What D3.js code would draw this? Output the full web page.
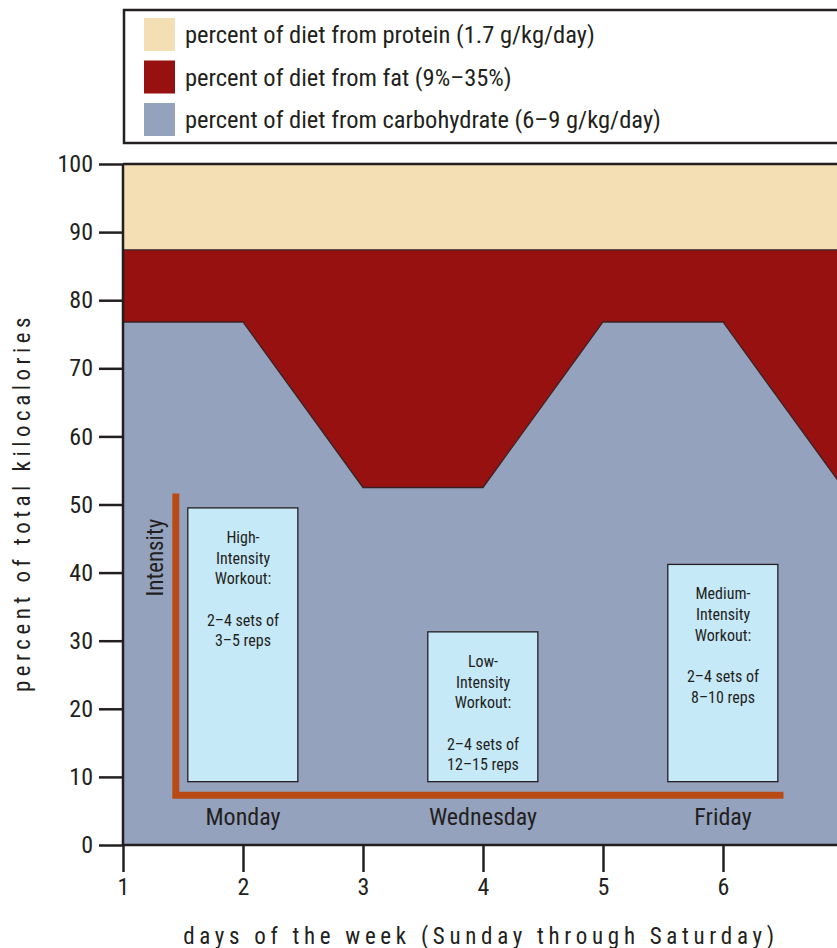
<!DOCTYPE html>
<html>
<head>
<meta charset="utf-8">
<script src="https://cdn.jsdelivr.net/npm/d3@7"></script>
<style>
  body { margin: 0; background: #fff; }
  text { font-family: "Liberation Sans Narrow", "Roboto Condensed", "DejaVu Sans Condensed", "Liberation Sans", sans-serif; fill: #231f20; }
</style>
</head>
<body>
<div id="chart"></div>
<script>
// data
const days = [1, 2, 3, 4, 5, 6, 7];
const carbPct = [76.8, 76.8, 52.5, 52.5, 76.8, 76.8, 52.5];
const fatPct = [10.6, 10.6, 34.9, 34.9, 10.6, 10.6, 34.9];
const proteinPct = [12.6, 12.6, 12.6, 12.6, 12.6, 12.6, 12.6];
const yTicks = [0, 10, 20, 30, 40, 50, 60, 70, 80, 90, 100];
const xTicks = [1, 2, 3, 4, 5, 6, 7];
const legendLabels = [
	"percent of diet from protein (1.7 g/kg/day)",
	"percent of diet from fat (9%\u201335%)",
	"percent of diet from carbohydrate (6\u20139 g/kg/day)"
];
const workoutDays = [2, 4, 6];
const workoutTop = [49.5, 31.3, 41.2];
const workoutBottom = 9.3;
const workoutText = [
	["High-", "Intensity", "Workout:", "", "2\u20134 sets of", "3\u20135 reps"],
	["Low-", "Intensity", "Workout:", "", "2\u20134 sets of", "12\u201315 reps"],
	["Medium-", "Intensity", "Workout:", "", "2\u20134 sets of", "8\u201310 reps"]
];
const dayNames = ["Monday", "Wednesday", "Friday"];

const WIDTH = 837, HEIGHT = 948;
const COLORS = { protein: "#f4dfb5", fat: "#96110f", carb: "#94a2bd" };
const INK = "#231f20";

const svg = d3.select("#chart").append("svg")
	.attr("width", WIDTH)
	.attr("height", HEIGHT);

// scales
const x = d3.scaleLinear().domain([1, 7]).range([123, 843]);
const y = d3.scaleLinear().domain([0, 100]).range([845, 164]);

// stacked areas
const rows = days.map((d, i) => ({ day: d, carb: carbPct[i], fat: fatPct[i], protein: proteinPct[i] }));
const stack = d3.stack().keys(["carb", "fat", "protein"]);
const series = stack(rows);

const area = d3.area()
	.x(d => x(d.data.day))
	.y0(d => y(d[0]))
	.y1(d => y(d[1]));

svg.append("g").selectAll("path")
	.data(series)
	.join("path")
	.attr("d", area)
	.attr("fill", d => COLORS[d.key]);

// boundary lines between bands
const topLine = d3.line()
	.x(d => x(d.data.day))
	.y(d => y(d[1]));
svg.append("g").selectAll("path")
	.data(series.slice(0, 2))
	.join("path")
	.attr("d", topLine)
	.attr("fill", "none")
	.attr("stroke", "#3a2224")
	.attr("stroke-width", 1.3);

// top frame line
svg.append("line")
	.attr("x1", x(1)).attr("x2", WIDTH)
	.attr("y1", y(100)).attr("y2", y(100))
	.attr("stroke", INK).attr("stroke-width", 2.5);

// intensity axis (L shape)
const intensityX = 1.44, intensityTop = 51.1, intensityBase = 7.3, intensityEnd = 6.475;
svg.append("path")
	.attr("d", `M${x(intensityX)},${y(intensityTop)} V${y(intensityBase)} H${x(intensityEnd)}`)
	.attr("fill", "none")
	.attr("stroke", "#b94a16")
	.attr("stroke-width", 7)
	.attr("stroke-linecap", "square");

svg.append("text")
	.attr("transform", `translate(${x(1.3) + 4}, ${y(42.2)}) rotate(-90)`)
	.attr("text-anchor", "middle")
	.attr("font-size", 23)
	.text("Intensity");

// workout boxes
const boxG = svg.append("g").selectAll("g")
	.data(workoutDays)
	.join("g");

boxG.append("rect")
	.attr("x", d => x(d - 0.46))
	.attr("y", (d, i) => y(workoutTop[i]))
	.attr("width", x(1.917) - x(1))
	.attr("height", (d, i) => y(workoutBottom) - y(workoutTop[i]))
	.attr("fill", "#c6e9f8")
	.attr("stroke", INK)
	.attr("stroke-width", 1.3);

boxG.each(function(d, i) {
	const t = d3.select(this).append("text")
		.attr("text-anchor", "middle")
		.attr("font-size", 16);
	workoutText[i].forEach((line, j) => {
		t.append("tspan")
			.attr("x", x(d))
			.attr("y", y(workoutTop[i]) + 35 + j * 20.7)
			.text(line);
	});
});

svg.append("g").selectAll("text")
	.data(workoutDays)
	.join("text")
	.attr("x", d => x(d))
	.attr("y", y(2.9))
	.attr("text-anchor", "middle")
	.attr("font-size", 24)
	.text((d, i) => dayNames[i]);

// axes
const yAxis = svg.append("g")
	.attr("transform", `translate(${x(1)}, 0)`)
	.call(d3.axisLeft(y).tickValues(yTicks).tickSize(24).tickPadding(6));
const xAxis = svg.append("g")
	.attr("transform", `translate(0, ${y(0)})`)
	.call(d3.axisBottom(x).tickValues(xTicks).tickFormat(d3.format("d")).tickSize(27).tickPadding(6));

[yAxis, xAxis].forEach(a => {
	a.select(".domain").attr("stroke", INK).attr("stroke-width", 2.5);
	a.selectAll(".tick line").attr("stroke", INK).attr("stroke-width", 2.5);
	a.selectAll(".tick text")
		.attr("font-size", 24)
		.attr("font-family", null)
		.attr("fill", INK);
});
xAxis.select(".domain").attr("d", `M${x(1)},0H${WIDTH}`);
yAxis.select(".domain").attr("d", `M0,${y(0)}V${y(100)}`);

// axis labels
svg.append("text")
	.attr("transform", `translate(30, ${(y(0) + y(100)) / 2 - 2}) rotate(-90)`)
	.attr("text-anchor", "middle")
	.attr("font-size", 23)
	.attr("letter-spacing", 4.5)
	.text("percent of total kilocalories");

svg.append("text")
	.attr("x", 481)
	.attr("y", 944)
	.attr("text-anchor", "middle")
	.attr("font-size", 23)
	.attr("letter-spacing", 4.7)
	.text("days of the week (Sunday through Saturday)");

// legend
const legend = svg.append("g");
legend.append("rect")
	.attr("x", 124).attr("y", 10)
	.attr("width", 760).attr("height", 133)
	.attr("fill", "#fff")
	.attr("stroke", INK)
	.attr("stroke-width", 2.5);

const legendColors = [COLORS.protein, COLORS.fat, COLORS.carb];
const legendRows = legend.selectAll("g")
	.data(legendLabels)
	.join("g")
	.attr("transform", (d, i) => `translate(144, ${18 + i * 42.5})`);
legendRows.append("rect")
	.attr("width", 31).attr("height", 33)
	.attr("fill", (d, i) => legendColors[i]);
legendRows.append("text")
	.attr("x", 41).attr("y", 25)
	.attr("font-size", 24.5)
	.text(d => d);
</script>
</body>
</html>
